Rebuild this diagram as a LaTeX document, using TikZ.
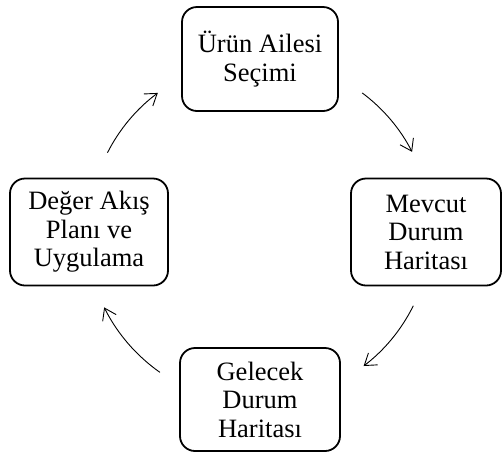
\documentclass[tikz,border=0pt]{standalone}
\usepackage{fontspec}
\setmainfont{Liberation Serif}
\usetikzlibrary{arrows.meta,calc}
\tikzset{
  stagebox/.style={draw, line width=1.8pt, rounded corners=15pt, align=center,
    inner sep=0pt, font=\fontsize{26.5}{28.5}\selectfont},
  cycarrow/.style={line width=0.9pt, -{Straight Barb[length=11pt,width=15pt,line width=0.9pt]}},
}
\begin{document}
\begin{tikzpicture}[x=1pt,y=-1pt]
  \useasboundingbox (0,0) rectangle (502,456);
  % four stages of the cycle
  \node[stagebox, minimum width=156pt, minimum height=104pt] (secim) at (260,59)
    {Ürün Ailesi\\Seçimi};
  \node[stagebox, minimum width=150pt, minimum height=107pt] (mevcut) at (426,232)
    {Mevcut\\Durum\\Haritası};
  \node[stagebox, minimum width=160pt, minimum height=103pt] (gelecek) at (260,399.5)
    {Gelecek\\Durum\\Haritası};
  \node[stagebox, minimum width=158pt, minimum height=107pt] (plan) at (89,232)
    {Değer Akış\\Planı ve\\Uygulama};
  % centre of the circle carrying the arrows
  \coordinate (c) at (260,230);
  \coordinate (a1) at ($(c)+(-53.3:171)$);
  \coordinate (a2) at ($(c)+(26.3:171)$);
  \coordinate (a3) at ($(c)+(125.1:174)$);
  \coordinate (a4) at ($(c)+(206.9:171)$);
  \draw[cycarrow] (a1) arc[start angle=-53.3, end angle=-27.2, radius=171];
  \draw[cycarrow] (a2) arc[start angle=26.3, end angle=52.7, radius=171];
  \draw[cycarrow] (a3) arc[start angle=125.1, end angle=153.6, radius=174];
  \draw[cycarrow] (a4) arc[start angle=206.9, end angle=233.3, radius=171];
\end{tikzpicture}
\end{document}
